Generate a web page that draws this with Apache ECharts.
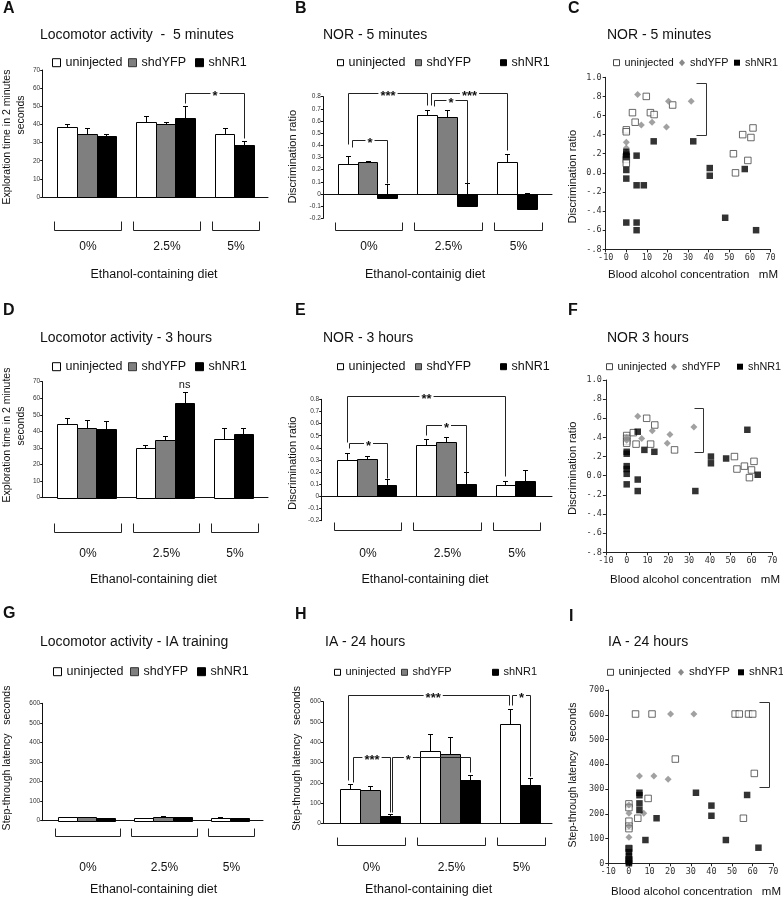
<!DOCTYPE html>
<html><head><meta charset="utf-8">
<script src="https://cdn.jsdelivr.net/npm/echarts@6/dist/echarts.min.js"></script>
<style>html,body{margin:0;padding:0;background:#fff}#c{width:783px;height:900px}</style>
</head><body><div id="c"></div>
<script>
const FONT = '"Liberation Sans", Arial, sans-serif';
const MONO = '"DejaVu Sans Mono", monospace';

// ---------- categories / names ----------
const groupLabels = ['0%', '2.5%', '5%'];
const seriesNames = ['uninjected', 'shdYFP', 'shNR1'];

// ---------- tick labels ----------
const locoTicks = ['0', '10', '20', '30', '40', '50', '60', '70'];
const norTicks = ['-0.2', '-0.1', '0', '0.1', '0.2', '0.3', '0.4', '0.5', '0.6', '0.7', '0.8'];
const iaTicks = ['0', '100', '200', '300', '400', '500', '600'];
const bacTicks = ['-10', '0', '10', '20', '30', '40', '50', '60', '70'];
const drTicks = ['-.8', '-.6', '-.4', '-.2', '0.0', '.2', '.4', '.6', '.8', '1.0'];
const latTicks = ['0', '100', '200', '300', '400', '500', '600', '700'];

// ---------- A: Locomotor activity - 5 minutes ----------
const locoA_uninjected = [38.7, 41.5, 35.0];
const locoA_shdYFP = [35.0, 40.3, null];
const locoA_shNR1 = [33.4, 43.5, 28.4];
const locoA_uninjected_err = [1.8, 2.9, 3.2];
const locoA_shdYFP_err = [3.2, 1.3, null];
const locoA_shNR1_err = [1.2, 6.4, 2.2];

// ---------- B: NOR - 5 minutes ----------
const norB_uninjected = [0.25, 0.65, 0.26];
const norB_shdYFP = [0.26, 0.63, null];
const norB_shNR1 = [-0.03, -0.10, -0.12];
const norB_uninjected_err = [0.06, 0.04, 0.07];
const norB_shdYFP_err = [0.015, 0.06, null];
const norB_shNR1_err = [0.11, 0.19, 0.13];

// ---------- C: NOR - 5 minutes vs BAC ----------
const norC_uninjected = [[0,0.45],[0,0.43],[0,0.17],[0,0.14],[0,0.10],[3,0.63],[4.3,0.53],[9.7,0.80],[11.7,0.63],[13.5,0.61],[22.5,0.71],[52,0.20],[53,0.0],[56.5,0.40],[60.5,0.37],[61.5,0.47],[59,0.13]];
const norC_shdYFP = [[0,0.32],[0,0.26],[5.5,0.82],[7.3,0.50],[12.5,0.53],[20.5,0.75],[19.5,0.48],[31.5,0.75]];
const norC_shNR1 = [[0,0.22],[0,0.19],[0,0.17],[0,0.03],[0,-0.06],[0,-0.52],[5,0.18],[5,-0.13],[8.5,-0.13],[5,-0.52],[5,-0.60],[13.3,0.33],[32.5,0.33],[40.5,0.05],[40.5,-0.03],[48,-0.47],[57.5,0.04],[63,-0.60]];

// ---------- D: Locomotor activity - 3 hours ----------
const locoD_uninjected = [44.2, 30.2, 35.3];
const locoD_shdYFP = [42.2, 34.6, null];
const locoD_shNR1 = [41.5, 56.9, 38.2];
const locoD_uninjected_err = [4.0, 1.5, 6.5];
const locoD_shdYFP_err = [4.4, 2.5, null];
const locoD_shNR1_err = [4.6, 7.0, 3.6];

// ---------- E: NOR - 3 hours ----------
const norE_uninjected = [0.30, 0.42, 0.09];
const norE_shdYFP = [0.31, 0.45, null];
const norE_shNR1 = [0.09, 0.10, 0.13];
const norE_uninjected_err = [0.06, 0.05, 0.035];
const norE_shdYFP_err = [0.02, 0.04, null];
const norE_shNR1_err = [0.05, 0.10, 0.09];

// ---------- F: NOR 3 hours vs BAC ----------
const norF_uninjected = [[0,0.42],[0,0.39],[0,0.36],[0,0.34],[3.2,0.45],[4.5,0.33],[9.6,0.60],[13.5,0.53],[11.5,0.33],[23,0.27],[51.8,0.20],[53,0.07],[56.6,0.10],[61.2,0.15],[60,0.06],[59,-0.02]];
const norF_shdYFP = [[0,0.40],[0,0.37],[5.3,0.62],[7.2,0.39],[12.3,0.47],[20.8,0.43],[19.5,0.34],[32.3,0.51]];
const norF_shNR1 = [[0,0.25],[0,0.23],[0,0.10],[0,0.07],[0,0.02],[0,-0.09],[5.3,0.46],[5.3,-0.04],[5.3,-0.16],[8.5,0.27],[13.3,0.25],[33,-0.16],[40.5,0.20],[40.5,0.13],[47.8,0.18],[58,0.48],[63,0.01]];

// ---------- G: Locomotor activity - IA training ----------
const locoG_uninjected = [17, 13, 16];
const locoG_shdYFP = [17, 21, null];
const locoG_shNR1 = [14, 18, 15];
const locoG_uninjected_err = [2, 1, 1];
const locoG_shdYFP_err = [2, 3, null];
const locoG_shNR1_err = [1.5, 2, 1];

// ---------- H: IA - 24 hours ----------
const iaH_uninjected = [168, 357, 490];
const iaH_shdYFP = [166, 340, null];
const iaH_shNR1 = [38, 214, 188];
const iaH_uninjected_err = [28, 85, 75];
const iaH_shdYFP_err = [20, 88, null];
const iaH_shNR1_err = [6, 26, 37];

// ---------- I: IA - 24 hours vs BAC ----------
const iaI_uninjected = [[3.2,603],[11.2,603],[51.5,603],[53.5,603],[58,603],[60,603],[22.5,421],[9.3,262],[60.8,363],[4.3,182],[55.5,182],[0,240],[0,225],[0,170],[0,150],[0,140],[0,60],[0,15]];
const iaI_shdYFP = [[20.2,603],[31.5,603],[5.1,353],[12.1,353],[19,340],[7.2,202],[0,235],[0,202],[0,150],[0,105]];
const iaI_shNR1 = [[5.1,285],[5.1,275],[5.1,242],[5.1,215],[13.4,182],[8,94],[32.5,285],[40,233],[40,192],[47,94],[57.3,276],[62.8,63],[0,60],[0,45],[0,30],[0,15],[0,5],[0,0]];

// ================= builders =================
const grids = [], xAxes = [], yAxes = [], series = [], legends = [], graphics = [];
const BAR_FILLS = ['#ffffff', '#7f7f7f', '#000000'];
const r5 = v => Math.round(v) + 0.5;
const tickFmt = (labels, min, step) => v => { const i = Math.round((v - min) / step); return labels[i] != null ? labels[i] : ''; };

function addGrid(p) {
  grids.push({left: p.left, top: p.top, width: p.right - p.left, height: p.bottom - p.top, containLabel: false});
  return grids.length - 1;
}

function barRenderer(fill) {
  return function (params, api) {
    const x = api.value(0), v = api.value(1), e = api.value(2);
    const w = api.size([0.25, 0])[0];
    const pb = api.coord([x, 0]), pt = api.coord([x, v]), pe = api.coord([x, v + e]);
    const L = r5(pb[0] - w / 2), R = r5(pb[0] + w / 2);
    const y0 = r5(pb[1]), y1 = r5(pt[1]), ye = r5(pe[1]), cx = r5(pb[0]);
    return {type: 'group', children: [
      {type: 'rect', shape: {x: L, y: Math.min(y0, y1), width: R - L, height: Math.abs(y1 - y0)}, style: {fill: fill, stroke: '#000', lineWidth: 1}},
      {type: 'line', shape: {x1: cx, y1: y1, x2: cx, y2: ye}, style: {stroke: '#000', lineWidth: 1}},
      {type: 'line', shape: {x1: cx - 2.5, y1: ye, x2: cx + 2.5, y2: ye}, style: {stroke: '#000', lineWidth: 1}}
    ]};
  };
}

function groupRenderer(p) {
  return function (params, api) {
    const g = api.value(0), n = api.value(2);
    const w = api.size([0.25, 0])[0];
    const first = api.coord([g - 0.25, 0])[0];
    const last = api.coord([g - 0.25 + (n - 1) * 0.25, 0])[0];
    const L = r5(first - w / 2 - 3), R = r5(last + w / 2 + 5);
    const t = r5(p.brTop), b = r5(p.brBot);
    return {type: 'group', children: [
      {type: 'polyline', shape: {points: [[L, t], [L, b], [R, b], [R, t]]}, style: {stroke: '#222', fill: null, lineWidth: 1}},
      {type: 'text', x: (L + R) / 2, y: p.labelY, style: {text: groupLabels[g], font: '12px ' + FONT, fill: '#111', textAlign: 'center', textVerticalAlign: 'middle'}}
    ]};
  };
}

function sigRenderer(list) {
  return function (params, api) {
    const a = list[api.value(2)];
    const children = [];
    if (a.x2 != null) {
      const p1 = api.coord([a.x1, a.y]), p2 = api.coord([a.x2, a.y]);
      const d1 = api.coord([a.x1, a.d1]), d2 = api.coord([a.x2, a.d2]);
      const X1 = r5(p1[0]), X2 = r5(p2[0]), Y = r5(p1[1]);
      children.push({type: 'polyline', shape: {points: [[X1, r5(d1[1])], [X1, Y], [X2, Y], [X2, r5(d2[1])]]}, style: {stroke: '#222', fill: null, lineWidth: 1}});
      const tx = a.tx != null ? api.coord([a.tx, a.y])[0] : (X1 + X2) / 2;
      children.push({type: 'text', x: tx, y: Y + 3, style: {text: a.t, font: 'bold 13px ' + FONT, fill: '#111', textAlign: 'center', textVerticalAlign: 'middle', backgroundColor: '#fff', padding: [0, 2]}});
    } else {
      const pt = api.coord([a.x1, a.y]);
      children.push({type: 'text', x: pt[0], y: pt[1], style: {text: a.t, font: '11px ' + FONT, fill: '#111', textAlign: 'center', textVerticalAlign: 'bottom'}});
    }
    return {type: 'group', children: children};
  };
}

function scatterBracketRenderer(params, api) {
  const a = api.coord([api.value(0), api.value(1)]);
  const b = api.coord([api.value(2), api.value(3)]);
  const L = r5(a[0]), R = r5(b[0]), T = r5(a[1]), B = r5(b[1]);
  return {type: 'polyline', shape: {points: [[L, T], [R, T], [R, B], [L, B]]}, style: {stroke: '#333', fill: null, lineWidth: 1}};
}

function addBarPanel(p) {
  const gi = addGrid(p);
  xAxes.push({gridIndex: gi, type: 'value', min: -(p.c0 - p.left) / p.unit, max: (p.right - p.c0) / p.unit,
    axisLine: {show: true, onZero: true, lineStyle: {color: '#111', width: 1}}, axisTick: {show: false}, axisLabel: {show: false}, splitLine: {show: false}});
  yAxes.push({gridIndex: gi, type: 'value', min: p.ymin, max: p.ymax, interval: p.interval,
    axisLine: {show: true, onZero: false, lineStyle: {color: '#111', width: 1}},
    axisTick: {show: true, length: 2.5, lineStyle: {color: '#111'}},
    axisLabel: {fontSize: 6.5, color: '#333', margin: 2.5, fontFamily: FONT, formatter: tickFmt(p.ticks, p.ymin, p.interval)},
    splitLine: {show: false}});
  p.values.forEach((vals, s) => {
    const data = [];
    vals.forEach((v, g) => {
      if (v == null) return;
      let slot = 0;
      for (let k = 0; k < s; k++) if (p.values[k][g] != null) slot++;
      data.push([g - 0.25 + slot * 0.25, v, p.errs[s][g]]);
    });
    series.push({type: 'custom', name: seriesNames[s], xAxisIndex: gi, yAxisIndex: gi, data: data, z: 3, silent: true,
      itemStyle: {color: BAR_FILLS[s]}, renderItem: barRenderer(BAR_FILLS[s])});
  });
  const gdata = groupLabels.map((_, g) => [g, 0, p.values.filter(v => v[g] != null).length]);
  series.push({type: 'custom', xAxisIndex: gi, yAxisIndex: gi, data: gdata, z: 3, silent: true, renderItem: groupRenderer(p)});
  if (p.sig && p.sig.length) {
    series.push({type: 'custom', xAxisIndex: gi, yAxisIndex: gi, data: p.sig.map((_, i) => [0, 0, i]), z: 5, silent: true, renderItem: sigRenderer(p.sig)});
  }
}

const SCAT_SYM = ['rect', 'diamond', 'rect'];
const SCAT_SIZE = [6.5, 7, 6.5];
const SCAT_STYLE = [{color: '#fff', borderColor: '#444', borderWidth: 1}, {color: '#8a8a8a'}, {color: '#000'}];

function addScatterPanel(p) {
  const gi = addGrid(p);
  xAxes.push({gridIndex: gi, type: 'value', min: p.xmin, max: p.xmax, interval: p.xint,
    axisLine: {show: true, onZero: false, lineStyle: {color: '#222', width: 1}},
    axisTick: {show: true, length: 3, lineStyle: {color: '#222'}},
    axisLabel: {fontFamily: MONO, fontSize: 8.5, color: '#333', margin: 4, formatter: tickFmt(p.xticks, p.xmin, p.xint)},
    splitLine: {show: false}});
  yAxes.push({gridIndex: gi, type: 'value', min: p.ymin, max: p.ymax, interval: p.yint,
    axisLine: {show: true, onZero: false, lineStyle: {color: '#222', width: 1}},
    axisTick: {show: true, length: 3, lineStyle: {color: '#222'}},
    axisLabel: {fontFamily: MONO, fontSize: 8.5, color: '#333', margin: 4, formatter: tickFmt(p.yticks, p.ymin, p.yint)},
    splitLine: {show: false}});
  p.points.forEach((pts, s) => {
    series.push({type: 'scatter', name: seriesNames[s], xAxisIndex: gi, yAxisIndex: gi, data: pts, silent: true,
      symbol: SCAT_SYM[s], symbolSize: SCAT_SIZE[s], itemStyle: SCAT_STYLE[s], z: 3 + s});
  });
  series.push({type: 'custom', xAxisIndex: gi, yAxisIndex: gi, data: [p.bracket], silent: true, z: 2, renderItem: scatterBracketRenderer});
}

const BAR_ICONS = [
  {icon: 'rect', w: 8, h: 8, style: {color: '#fff', borderColor: '#000', borderWidth: 1}},
  {icon: 'rect', w: 8, h: 8, style: {color: '#7f7f7f', borderColor: '#333', borderWidth: 1}},
  {icon: 'rect', w: 8, h: 8, style: {color: '#000', borderColor: '#000', borderWidth: 1}}
];
const BAR_ICONS_SMALL = [
  {icon: 'rect', w: 6, h: 6, style: {color: '#fff', borderColor: '#000', borderWidth: 1}},
  {icon: 'rect', w: 6, h: 6, style: {color: '#7f7f7f', borderColor: '#333', borderWidth: 1}},
  {icon: 'rect', w: 6, h: 6, style: {color: '#000', borderColor: '#000', borderWidth: 1}}
];
const SCAT_ICONS = [
  {icon: 'rect', w: 6, h: 6, style: {color: '#fff', borderColor: '#444', borderWidth: 1}},
  {icon: 'diamond', w: 6, h: 7, style: {color: '#8a8a8a', borderWidth: 0}},
  {icon: 'rect', w: 6, h: 6, style: {color: '#000', borderWidth: 0}}
];
function addLegend(cy, xs, icons, fontSize) {
  xs.forEach((x, s) => {
    const ic = icons[s];
    legends.push({show: true, left: x, top: cy - 7, padding: 0, orient: 'horizontal', selectedMode: false,
      icon: ic.icon, itemWidth: ic.w, itemHeight: ic.h, itemStyle: ic.style, data: [seriesNames[s]],
      textStyle: {fontSize: fontSize, fontFamily: FONT, color: '#111', lineHeight: 14}});
  });
}

function gtext(text, x, y, size, opts) {
  opts = opts || {};
  graphics.push({type: 'text', x: x, y: y, rotation: opts.rot ? Math.PI / 2 : 0, silent: true,
    style: {text: text, font: (opts.bold ? 'bold ' : '') + size + 'px ' + FONT, fill: '#111',
      textAlign: opts.align || 'center', textVerticalAlign: 'middle'}});
}

// ================= panels =================
addBarPanel({left: 42.7, right: 268, top: 70, bottom: 197, ymin: 0, ymax: 70, interval: 10, ticks: locoTicks,
  c0: 86.7, unit: 78.8, brTop: 221, brBot: 230, labelY: 247,
  values: [locoA_uninjected, locoA_shdYFP, locoA_shNR1], errs: [locoA_uninjected_err, locoA_shdYFP_err, locoA_shNR1_err],
  sig: [{x1: 1.25, x2: 2.0, y: 57.2, d1: 51.8, d2: 32.5, t: '*'}]});

addBarPanel({left: 323.3, right: 552, top: 96.7, bottom: 218.3, ymin: -0.2, ymax: 0.8, interval: 0.1, ticks: norTicks,
  c0: 367.5, unit: 79.8, brTop: 221.7, brBot: 230, labelY: 247,
  values: [norB_uninjected, norB_shdYFP, norB_shNR1], errs: [norB_uninjected_err, norB_shdYFP_err, norB_shNR1_err],
  sig: [
    {x1: -0.25, x2: 0.74, y: 0.83, d1: 0.415, d2: 0.73, t: '***'},
    {x1: 0.79, x2: 1.75, y: 0.83, d1: 0.73, d2: 0.36, t: '***'},
    {x1: -0.2, x2: 0.25, y: 0.44, d1: 0.385, d2: 0.09, t: '*'},
    {x1: 0.83, x2: 1.25, y: 0.77, d1: 0.72, d2: 0.09, t: '*'}
  ]});

addScatterPanel({left: 605.7, right: 770.5, top: 77.3, bottom: 249.3, xmin: -10, xmax: 70, xint: 10, xticks: bacTicks,
  ymin: -0.8, ymax: 1.0, yint: 0.2, yticks: drTicks, points: [norC_uninjected, norC_shdYFP, norC_shNR1],
  bracket: [33.8, 0.945, 38.6, 0.397]});

addBarPanel({left: 42.7, right: 268, top: 381.7, bottom: 497.7, ymin: 0, ymax: 70, interval: 10, ticks: locoTicks,
  c0: 86.7, unit: 78.3, brTop: 523, brBot: 532, labelY: 553.3,
  values: [locoD_uninjected, locoD_shdYFP, locoD_shNR1], errs: [locoD_uninjected_err, locoD_shdYFP_err, locoD_shNR1_err],
  sig: [{x1: 1.25, y: 65, t: 'ns'}]});

addBarPanel({left: 321.7, right: 552, top: 399.3, bottom: 520.7, ymin: -0.2, ymax: 0.8, interval: 0.1, ticks: norTicks,
  c0: 366.7, unit: 79.3, brTop: 521.7, brBot: 530, labelY: 553.3,
  values: [norE_uninjected, norE_shdYFP, norE_shNR1], errs: [norE_uninjected_err, norE_shdYFP_err, norE_shNR1_err],
  sig: [
    {x1: -0.25, x2: 1.75, y: 0.83, d1: 0.45, d2: 0.165, t: '**'},
    {x1: -0.22, x2: 0.25, y: 0.44, d1: 0.395, d2: 0.15, t: '*'},
    {x1: 0.75, x2: 1.25, y: 0.59, d1: 0.505, d2: 0.205, t: '*'}
  ]});

addScatterPanel({left: 605.9, right: 772.3, top: 380, bottom: 552.3, xmin: -10, xmax: 70, xint: 10, xticks: bacTicks,
  ymin: -0.8, ymax: 1.0, yint: 0.2, yticks: drTicks, points: [norF_uninjected, norF_shdYFP, norF_shNR1],
  bracket: [32.5, 0.707, 36.9, 0.247]});

addBarPanel({left: 42.7, right: 263, top: 703.3, bottom: 820.7, ymin: 0, ymax: 600, interval: 100, ticks: iaTicks,
  c0: 86.7, unit: 76.3, brTop: 828, brBot: 835.7, labelY: 867.7,
  values: [locoG_uninjected, locoG_shdYFP, locoG_shNR1], errs: [locoG_uninjected_err, locoG_shdYFP_err, locoG_shNR1_err],
  sig: []});

addBarPanel({left: 323.3, right: 552, top: 701.7, bottom: 823.3, ymin: 0, ymax: 600, interval: 100, ticks: iaTicks,
  c0: 370, unit: 80, brTop: 836.7, brBot: 845, labelY: 867.7,
  values: [iaH_uninjected, iaH_shdYFP, iaH_shNR1], errs: [iaH_uninjected_err, iaH_shdYFP_err, iaH_shNR1_err],
  sig: [
    {x1: -0.28, x2: 1.74, y: 634, d1: 214, d2: 584, t: '***', tx: 0.79},
    {x1: 1.77, x2: 2.0, y: 634, d1: 584, d2: 232, t: '*'},
    {x1: -0.21, x2: 0.25, y: 329, d1: 205, d2: 57, t: '***'},
    {x1: 0.28, x2: 1.25, y: 329, d1: 57, d2: 254, t: '*', tx: 0.48}
  ]});

addScatterPanel({left: 608.3, right: 773.3, top: 690, bottom: 863.3, xmin: -10, xmax: 70, xint: 10, xticks: bacTicks,
  ymin: 0, ymax: 700, yint: 100, yticks: latTicks, points: [iaI_uninjected, iaI_shdYFP, iaI_shNR1],
  bracket: [63.2, 650, 67.9, 310]});

// legends
addLegend(62.7, [52, 128, 195], BAR_ICONS, 12.5);
addLegend(62.7, [337, 415, 500], BAR_ICONS_SMALL, 12.5);
addLegend(62.7, [613, 679, 734], SCAT_ICONS, 10.8);
addLegend(366.7, [52, 128, 195], BAR_ICONS, 12.5);
addLegend(366.7, [337, 415, 500], BAR_ICONS_SMALL, 12.5);
addLegend(366.7, [606, 671, 737], SCAT_ICONS, 10.8);
addLegend(671.7, [53, 130, 197], BAR_ICONS, 12.5);
addLegend(672.3, [334, 401, 492], BAR_ICONS_SMALL, 11);
addLegend(672.3, [607, 678, 738], SCAT_ICONS, 11.5);

// panel letters
[['A', 3, 8.7], ['B', 295, 8.7], ['C', 568, 8.7], ['D', 3, 311], ['E', 295, 311], ['F', 568, 311], ['G', 3, 614], ['H', 295, 615], ['I', 569, 617]]
  .forEach(l => gtext(l[0], l[1], l[2], 16, {bold: true, align: 'left'}));

// panel titles
[['Locomotor activity  -  5 minutes', 40, 35], ['NOR - 5 minutes', 323, 35], ['NOR - 5 minutes', 607, 35],
 ['Locomotor activity - 3 hours', 40, 338.3], ['NOR - 3 hours', 323, 338.3], ['NOR 3 hours', 607, 338.3],
 ['Locomotor activity - IA training', 40, 641.7], ['IA - 24 hours', 325, 641.7], ['IA - 24 hours', 608, 641.7]]
  .forEach(t => gtext(t[0], t[1], t[2], 14, {align: 'left'}));

// y-axis titles
gtext('Exploration time in 2 minutes', 6.7, 137, 10.5, {rot: true});
gtext('seconds', 20.7, 115, 10.5, {rot: true});
gtext('Discrimination ratio', 293.3, 156.7, 11, {rot: true});
gtext('Discrimination ratio', 573.3, 176.7, 11, {rot: true});
gtext('Exploration time in 2 minutes', 6.7, 435, 10.5, {rot: true});
gtext('seconds', 20.7, 426, 10.5, {rot: true});
gtext('Discrimination ratio', 293.3, 463.3, 11, {rot: true});
gtext('Discrimination ratio', 573.3, 468.3, 11, {rot: true});
gtext('Step-through latency   seconds', 6.7, 758, 10.5, {rot: true});
gtext('Step-through latency   seconds', 296.7, 758.3, 10.5, {rot: true});
gtext('Step-through latency   seconds', 573.3, 775, 10.5, {rot: true});

// x-axis titles
gtext('Ethanol-containing diet', 154, 275, 12.5);
gtext('Ethanol-containig diet', 425, 275, 12.5);
gtext('Blood alcohol concentration   mM', 693, 275, 11.5);
gtext('Ethanol-containing diet', 153.5, 580, 12.5);
gtext('Ethanol-containing diet', 425, 580, 12.5);
gtext('Blood alcohol concentration   mM', 695, 580, 11.5);
gtext('Ethanol-containing diet', 153.7, 890, 12.5);
gtext('Ethanol-containing diet', 428.7, 890, 12.5);
gtext('Blood alcohol concentration   mM', 696, 892.3, 11.5);

const chart = echarts.init(document.getElementById('c'), null, {renderer: 'canvas'});
chart.setOption({
  animation: false,
  backgroundColor: '#fff',
  textStyle: {fontFamily: FONT},
  grid: grids, xAxis: xAxes, yAxis: yAxes, series: series, legend: legends, graphic: graphics
});
</script></body></html>
